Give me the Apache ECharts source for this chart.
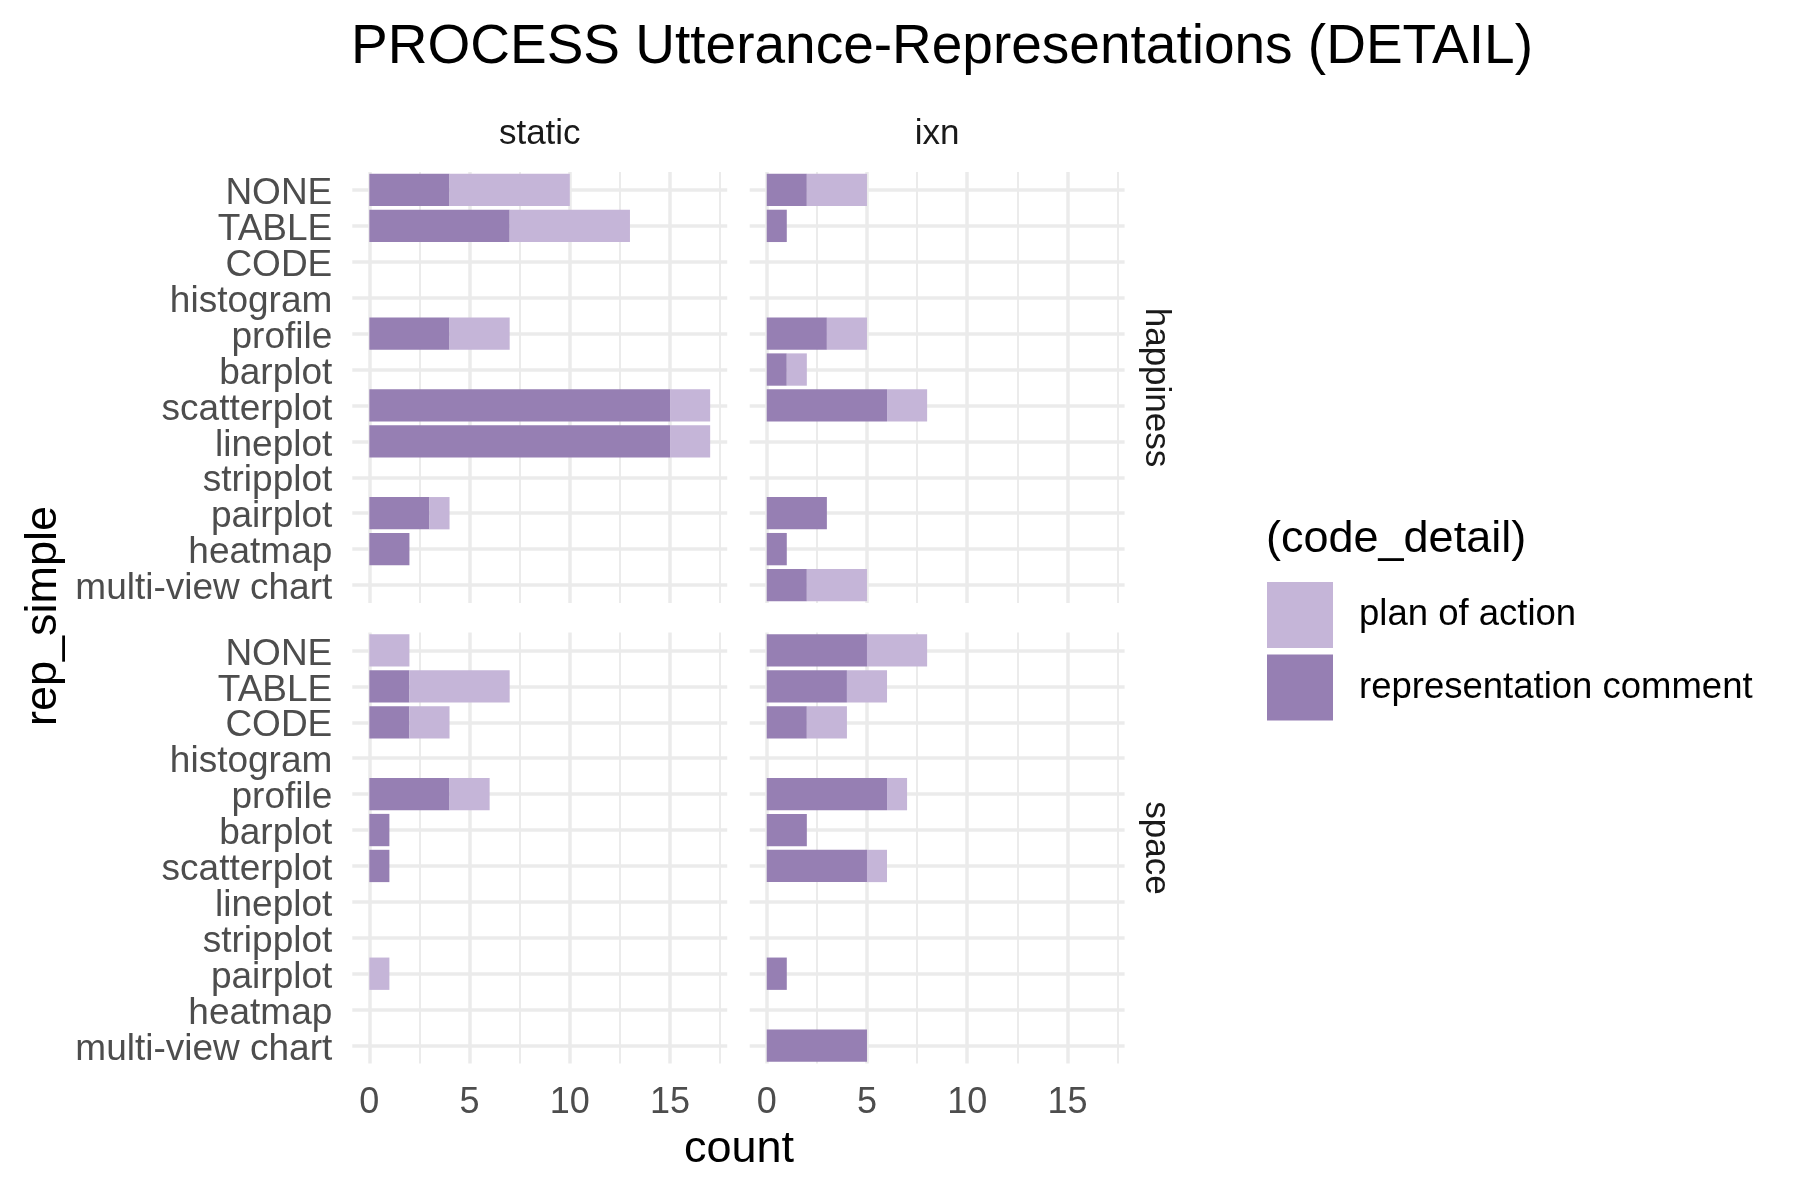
<!DOCTYPE html>
<html><head><meta charset="utf-8">
<script src="https://cdn.jsdelivr.net/npm/echarts@6/dist/echarts.min.js"></script>
<style>html,body{margin:0;padding:0;background:#fff}#c{width:1800px;height:1200px}</style>
</head><body><div id="c"></div>
<script>
const categories = ['NONE','TABLE','CODE','histogram','profile','barplot','scatterplot','lineplot','stripplot','pairplot','heatmap','multi-view chart'];
const columns = ['static','ixn'];
const rows = ['happiness','space'];
const seriesNames = ['plan of action','representation comment'];
const xTickLabels = [0,5,10,15];
const xGridMajor = [0,5,10,15];
const xGridMinor = [2.5,7.5,12.5,17.5];

// "representation comment" counts (dark) and "plan of action" counts (light)
const happinessStaticRep  = [4,7,0,0,4,0,15,15,0,3,2,0];
const happinessStaticPlan = [6,6,0,0,3,0,2,2,0,1,0,0];
const happinessIxnRep     = [2,1,0,0,3,1,6,0,0,3,1,2];
const happinessIxnPlan    = [3,0,0,0,2,1,2,0,0,0,0,3];
const spaceStaticRep      = [0,2,2,0,4,1,1,0,0,0,0,0];
const spaceStaticPlan     = [2,5,2,0,2,0,0,0,0,1,0,0];
const spaceIxnRep         = [5,4,2,0,6,2,5,0,0,1,0,5];
const spaceIxnPlan        = [3,2,2,0,1,0,1,0,0,0,0,0];

const panelData = [
  [happinessStaticRep, happinessStaticPlan],
  [happinessIxnRep, happinessIxnPlan],
  [spaceStaticRep, spaceStaticPlan],
  [spaceIxnRep, spaceIxnPlan]
];

const DARK = '#967FB3', LIGHT = '#C5B5D8', GRIDC = '#EBEBEB';
const FONT = 'Liberation Sans, Arial, sans-serif';
const panelLeft = [352.3, 749.7], panelWidth = 374.9;
const panelTop = [172, 632.5], panelHeight = 431;

const grids = [], xAxes = [], yAxes = [], series = [];
for (let r = 0; r < 2; r++) {
  for (let c = 0; c < 2; c++) {
    const i = r * 2 + c;
    grids.push({left: panelLeft[c], top: panelTop[r], width: panelWidth, height: panelHeight, containLabel: false});
    xAxes.push({
      type: 'value', gridIndex: i, min: -0.85, max: 17.85,
      axisLine: {show: false}, axisTick: {show: false}, splitLine: {show: false},
      axisLabel: {show: r === 1, customValues: xTickLabels, showMinLabel: true, showMaxLabel: true,
        fontSize: 36, color: '#4D4D4D', fontFamily: FONT, margin: 22}
    });
    yAxes.push({
      type: 'category', gridIndex: i, data: categories, inverse: true,
      axisLine: {show: false}, axisTick: {show: false}, splitLine: {show: false},
      axisLabel: {show: c === 0, interval: 0, fontSize: 37, color: '#4D4D4D', fontFamily: FONT, margin: 20,
        verticalAlign: 'top', lineHeight: 8}
    });
    const [rep, plan] = panelData[i];
    series.push({
      name: 'representation comment', type: 'bar', stack: 's' + i, xAxisIndex: i, yAxisIndex: i,
      barWidth: '90%', itemStyle: {color: DARK}, z: 3,
      data: rep.map(v => v === 0 ? null : v)
    });
    series.push({
      name: 'plan of action', type: 'bar', stack: 's' + i, xAxisIndex: i, yAxisIndex: i,
      barWidth: '90%', itemStyle: {color: LIGHT}, z: 3,
      data: plan.map(v => v === 0 ? null : v)
    });
    series.push({
      name: 'grid' + i, type: 'line', xAxisIndex: i, yAxisIndex: i, z: 0, silent: true,
      showSymbol: false, data: categories.map(() => null),
      markLine: {
        silent: true, symbol: ['none','none'], z: 0, animation: false,
        label: {show: false},
        lineStyle: {color: GRIDC, type: 'solid'},
        data: [
          ...xGridMinor.map(v => ({xAxis: v, lineStyle: {width: 2, color: GRIDC, type: 'solid'}})),
          ...xGridMajor.map(v => ({xAxis: v, lineStyle: {width: 3.5, color: GRIDC, type: 'solid'}})),
          ...categories.map((cat, k) => ({yAxis: k, lineStyle: {width: 3.5, color: GRIDC, type: 'solid'}}))
        ]
      }
    });
  }
}

function txt(x, y, s, size, color, rot, align) {
  return {type: 'text', x: x, y: y, rotation: rot || 0, z: 10,
    style: {text: s, fontSize: size, fill: color, fontFamily: FONT,
      align: align || 'center', verticalAlign: 'middle'}};
}

const option = {
  animation: false,
  backgroundColor: '#ffffff',
  textStyle: {fontFamily: FONT},
  grid: grids, xAxis: xAxes, yAxis: yAxes, series: series,
  legend: {
    data: seriesNames, orient: 'vertical', left: 1267, top: 582,
    itemWidth: 66, itemHeight: 66, itemGap: 6.5, icon: 'rect', padding: 0,
    selectedMode: false,
    textStyle: {fontSize: 36.5, color: '#000', fontFamily: FONT, padding: [0, 0, 0, 21]}
  },
  graphic: [
    txt(942, 48, 'PROCESS Utterance-Representations (DETAIL)', 55, '#000'),
    txt(panelLeft[0] + panelWidth / 2, 134, columns[0], 35, '#1A1A1A'),
    txt(panelLeft[1] + panelWidth / 2, 134, columns[1], 35, '#1A1A1A'),
    txt(1156, panelTop[0] + panelHeight / 2, rows[0], 35, '#1A1A1A', -Math.PI / 2),
    txt(1156, panelTop[1] + panelHeight / 2, rows[1], 35, '#1A1A1A', -Math.PI / 2),
    txt(44, 616, 'rep_simple', 45, '#000', Math.PI / 2),
    txt(739, 1150, 'count', 45, '#000'),
    txt(1266, 540, '(code_detail)', 45, '#000', 0, 'left')
  ]
};
const chart = echarts.init(document.getElementById('c'), null, {renderer: 'canvas'});
chart.setOption(option);
</script>
</body></html>
